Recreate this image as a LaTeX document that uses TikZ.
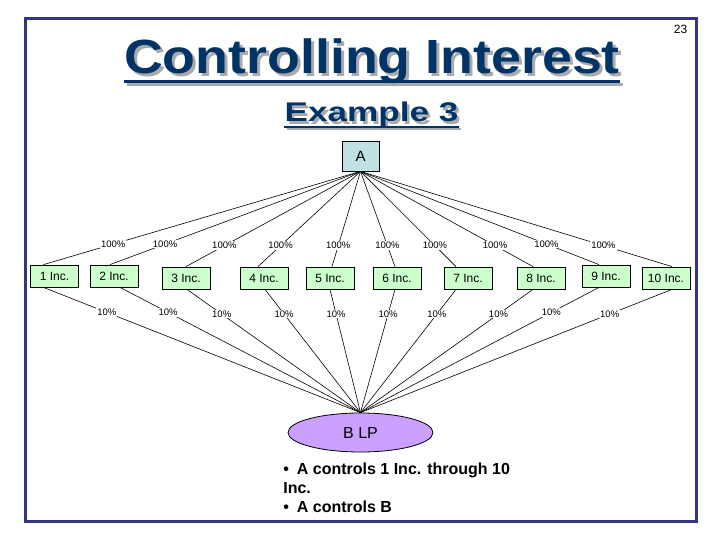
\documentclass[tikz,border=0pt]{standalone}
\usepackage{fontspec}
\setmainfont{Liberation Sans}
\usepackage{tikz}
\usetikzlibrary{shapes.geometric}
\definecolor{frameblue}{RGB}{52,52,128}
\definecolor{titleblue}{RGB}{0,51,102}
\definecolor{shadowgray}{RGB}{170,170,170}
\definecolor{aboxblue}{RGB}{192,224,226}
\definecolor{incgreen}{RGB}{204,255,204}
\definecolor{lplilac}{RGB}{204,160,255}

\begin{document}
\begin{tikzpicture}[x=1pt,y=-1pt,line width=0.6pt,
  inc/.style={draw,fill=incgreen,line width=0.8pt,minimum width=48pt,minimum height=22pt,inner sep=0pt,font=\fontsize{12}{14}\selectfont},
  pct/.style={fill=white,inner sep=1pt,font=\fontsize{9.5}{11}\selectfont},
  bigtitle/.style={anchor=base,inner sep=0pt,font=\fontsize{48}{50}\selectfont\bfseries},
  subtitle/.style={anchor=base,inner sep=0pt,font=\fontsize{27}{30}\selectfont\bfseries},
  bulletline/.style={anchor=base west,inner sep=0pt,font=\fontsize{16}{19}\selectfont\bfseries}]
\useasboundingbox (0,0) rectangle (720,540);
\draw[frameblue,line width=3pt] (25,19) rectangle (696,521);
\node[anchor=base,font=\fontsize{12}{14}\selectfont] (pg) at (680.5,34) {23};

\node[bigtitle,text=shadowgray] (ttlshadow) at (375,77) {\scalebox{1.12}[1]{Controlling Interest}};
\draw[shadowgray,line width=3pt] ([yshift=-7.5pt]ttlshadow.base west) -- ([yshift=-7.5pt]ttlshadow.base east);
\node[bigtitle,text=titleblue] (ttl) at (372,74) {\scalebox{1.12}[1]{Controlling Interest}};
\draw[titleblue,line width=3pt] ([yshift=-7.5pt]ttl.base west) -- ([yshift=-7.5pt]ttl.base east);

\node[subtitle,text=shadowgray] (subshadow) at (374,124.5) {\scalebox{1.3}[1]{Example 3}};
\draw[shadowgray,line width=2pt] ([yshift=-5pt]subshadow.base west) -- ([yshift=-5pt]subshadow.base east);
\node[subtitle,text=titleblue] (sub) at (371.5,122) {\scalebox{1.3}[1]{Example 3}};
\draw[titleblue,line width=2pt] ([yshift=-5pt]sub.base west) -- ([yshift=-5pt]sub.base east);

\node[draw,fill=aboxblue,line width=0.8pt,minimum width=37pt,minimum height=30pt,inner sep=0pt,font=\fontsize{15}{17}\selectfont] (A) at (360.5,156) {A};

\node[inc] (i1) at (54.5,276) {1 Inc.};
\node[inc] (i2) at (114,276) {2 Inc.};
\node[inc] (i3) at (186,278) {3 Inc.};
\node[inc] (i4) at (264,278) {4 Inc.};
\node[inc] (i5) at (330,278) {5 Inc.};
\node[inc] (i6) at (397,278) {6 Inc.};
\node[inc] (i7) at (468,278) {7 Inc.};
\node[inc] (i8) at (541,278) {8 Inc.};
\node[inc] (i9) at (606,276) {9 Inc.};
\node[inc] (i10) at (666,278) {10 Inc.};

\node[draw,ellipse,fill=lplilac,line width=0.8pt,minimum width=145pt,minimum height=39pt,inner sep=0pt,font=\fontsize{16}{18}\selectfont] (B) at (360.5,432.5) {B LP};

\draw (A.south) -- ([xshift=-11pt]i1.north) node[pct,pos=.78] {100\%};
\draw (A.south) -- ([xshift=-4pt]i2.north) node[pct,pos=.78] {100\%};
\draw (A.south) -- (i3.north) node[pct,pos=.78] {100\%};
\draw (A.south) -- ([xshift=-6pt]i4.north) node[pct,pos=.78] {100\%};
\draw (A.south) -- ([xshift=2pt]i5.north) node[pct,pos=.78] {100\%};
\draw (A.south) -- ([xshift=-2pt]i6.north) node[pct,pos=.78] {100\%};
\draw (A.south) -- ([xshift=-12pt]i7.north) node[pct,pos=.78] {100\%};
\draw (A.south) -- ([xshift=-8pt]i8.north) node[pct,pos=.78] {100\%};
\draw (A.south) -- ([xshift=-7pt]i9.north) node[pct,pos=.78] {100\%};
\draw (A.south) -- ([xshift=6pt]i10.north) node[pct,pos=.78] {100\%};

\draw ([xshift=-11pt]i1.south) -- (B.north) node[pct,pos=.2] {10\%};
\draw ([xshift=6pt]i2.south) -- (B.north) node[pct,pos=.2] {10\%};
\draw ([xshift=1pt]i3.south) -- (B.north) node[pct,pos=.2] {10\%};
\draw ([xshift=1pt]i4.south) -- (B.north) node[pct,pos=.2] {10\%};
\draw (i5.south) -- (B.north) node[pct,pos=.2] {10\%};
\draw ([xshift=-2pt]i6.south) -- (B.north) node[pct,pos=.2] {10\%};
\draw ([xshift=-12pt]i7.south) -- (B.north) node[pct,pos=.2] {10\%};
\draw ([xshift=-8pt]i8.south) -- (B.north) node[pct,pos=.2] {10\%};
\draw ([xshift=-7pt]i9.south) -- (B.north) node[pct,pos=.2] {10\%};
\draw ([xshift=6pt]i10.south) -- (B.north) node[pct,pos=.2] {10\%};

\node[bulletline] (line1) at (283,474) {\textbullet\hspace{8pt}A controls 1 Inc. through 10};
\node[bulletline] (line2) at (283,493) {Inc.};
\node[bulletline] (line3) at (283,512) {\textbullet\hspace{8pt}A controls B};
\end{tikzpicture}
\end{document}
